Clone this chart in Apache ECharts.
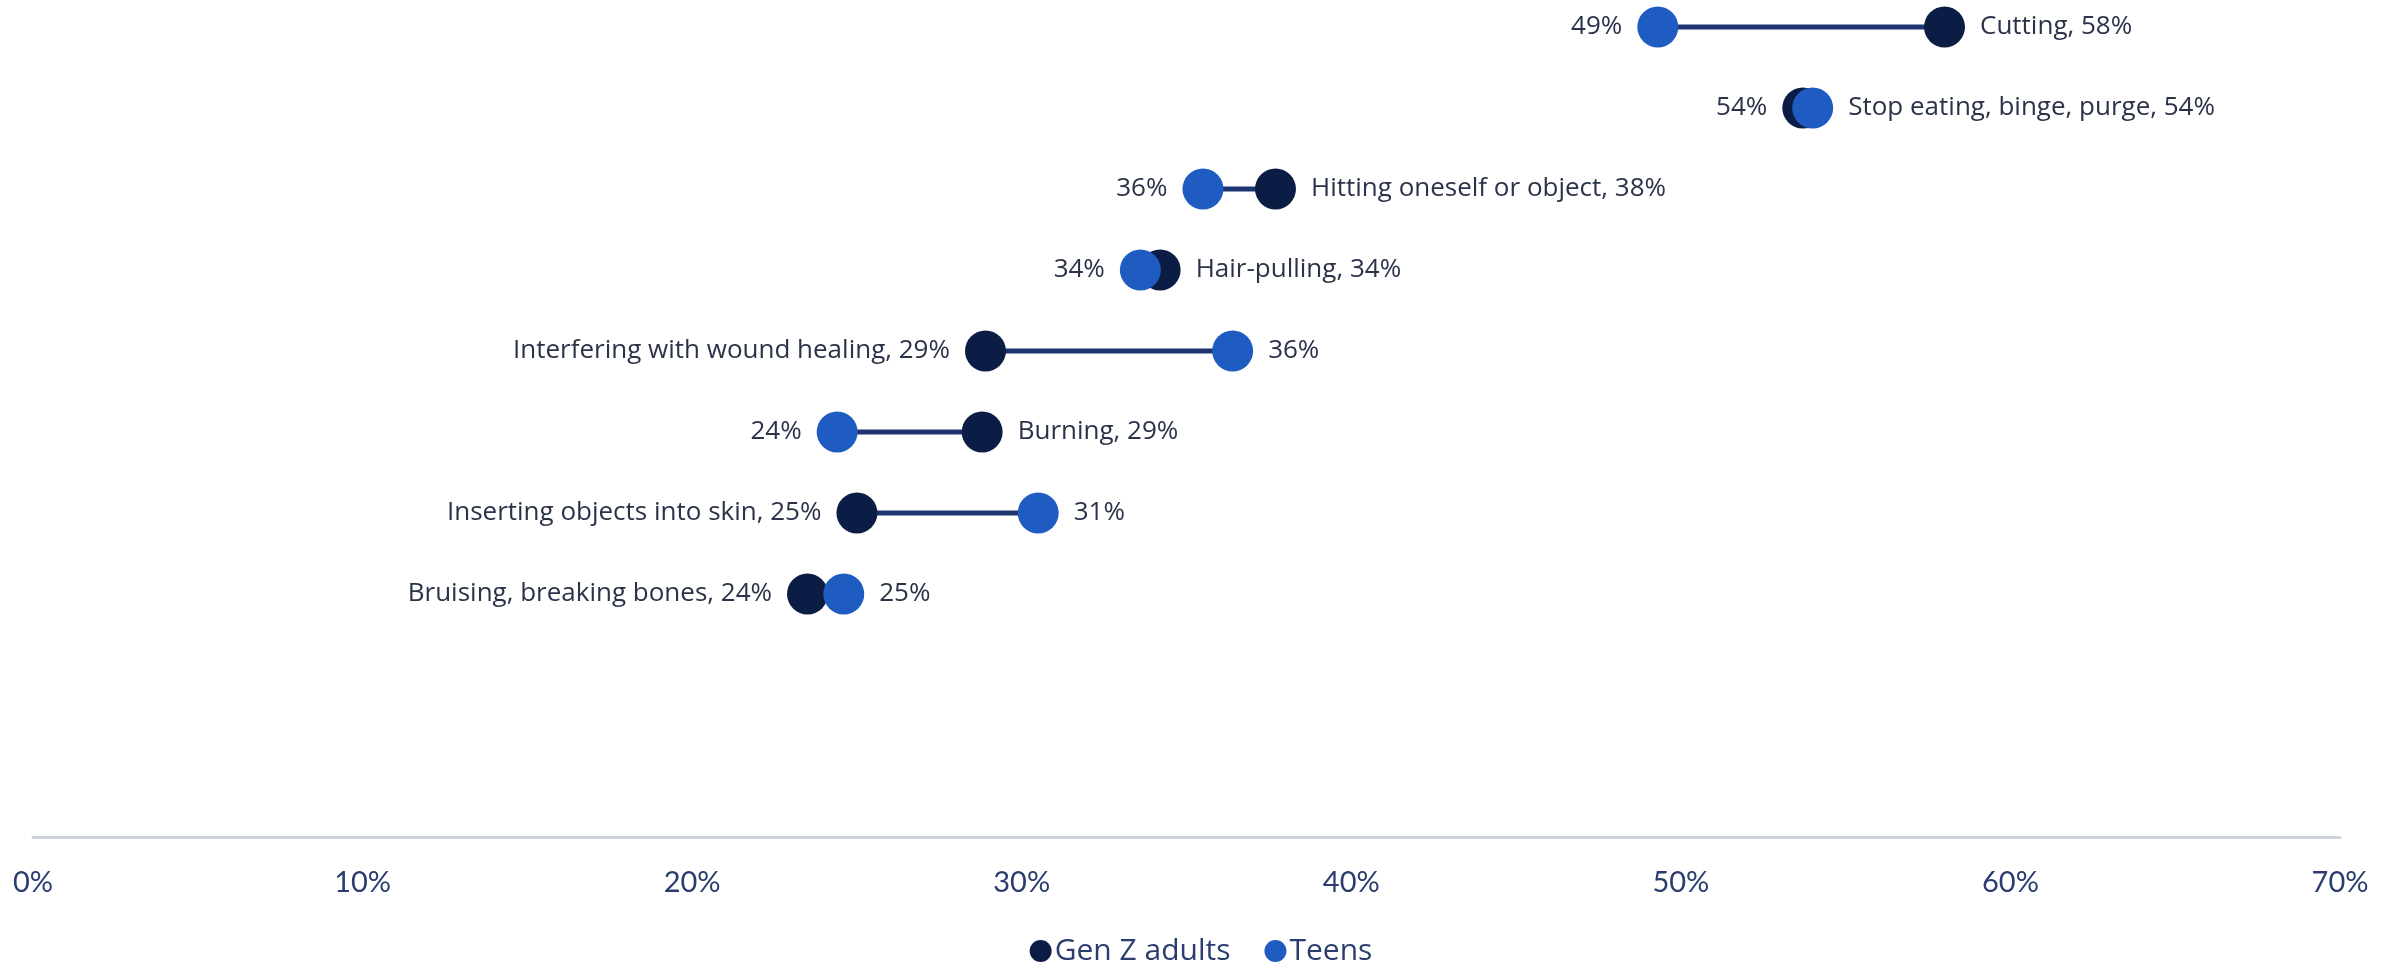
<!DOCTYPE html>
<html>
<head>
<meta charset="utf-8">
<title>Self-harm methods: Gen Z adults vs Teens</title>
<script src="https://cdn.jsdelivr.net/npm/echarts@6/dist/echarts.min.js"></script>
<style>
  html, body { margin: 0; padding: 0; background: #ffffff; }
  #chart { width: 2402px; height: 965px; }
</style>
</head>
<body>
<div id="chart"></div>
<script>
// Methods, top row first
const categories = [
  'Cutting',
  'Stop eating, binge, purge',
  'Hitting oneself or object',
  'Hair-pulling',
  'Interfering with wound healing',
  'Burning',
  'Inserting objects into skin',
  'Bruising, breaking bones'
];
// Share of respondents (%)
const genZAdults = [58.0, 53.7, 37.7, 34.2, 28.9, 28.8, 25.0, 23.5];
const teens      = [49.3, 54.0, 35.5, 33.6, 36.4, 24.4, 30.5, 24.6];
const seriesNames = ['Gen Z adults', 'Teens'];
const xTicks = [0, 10, 20, 30, 40, 50, 60, 70];

const DARK = '#0c1d45';
const BLUE = '#1f5cc2';
const LINK = '#1d3470';
const LABEL = '#2b3349';
const AXIS_TEXT = '#2a3d6e';
const LABEL_FONT = '"Open Sans", "Noto Sans", sans-serif';
const TICK_FONT = 'Lato, "Noto Sans", sans-serif';

const pct = v => Math.round(v) + '%';

// For each row decide which dot carries the method name and on which side labels sit.
function buildPoints(which) {
  return categories.map((name, i) => {
    const g = genZAdults[i], t = teens[i];
    const mine = which === 0 ? g : t;
    const other = which === 0 ? t : g;
    const isRight = mine >= other;
    let named;
    if (Math.round(g) === Math.round(t)) {
      named = isRight;             // tie: the name goes next to the right-hand dot
    } else {
      named = which === 0;         // otherwise the name follows the Gen Z dot
    }
    return {
      value: [mine, i],
      label: {
        show: true,
        position: isRight ? 'right' : 'left',
        distance: 15,
        formatter: named ? name + ', ' + pct(mine) : pct(mine)
      }
    };
  });
}

const linkData = categories.map((c, i) => [genZAdults[i], teens[i], i]);

const chart = echarts.init(document.getElementById('chart'), null, { renderer: 'canvas' });

chart.setOption({
  animation: false,
  backgroundColor: '#ffffff',
  textStyle: { fontFamily: LABEL_FONT },
  grid: { left: 33, right: 62, top: 27, bottom: 128, containLabel: false },
  xAxis: {
    type: 'value',
    min: xTicks[0],
    max: xTicks[xTicks.length - 1],
    interval: 10,
    axisLine: { show: true, onZero: false, lineStyle: { color: '#cdd4dc', width: 3 } },
    axisTick: { show: false },
    splitLine: { show: false },
    axisLabel: {
      formatter: '{value}%',
      fontSize: 29,
      color: AXIS_TEXT,
      margin: 31,
      fontFamily: TICK_FONT
    }
  },
  yAxis: {
    type: 'value',
    inverse: true,
    min: 0,
    max: 10,
    show: false
  },
  legend: {
    data: seriesNames,
    top: 931,
    left: 'center',
    icon: 'circle',
    itemWidth: 22,
    itemHeight: 22,
    itemGap: 34,
    textStyle: { fontSize: 30, color: AXIS_TEXT, fontFamily: LABEL_FONT, padding: [0, 0, 0, -2] }
  },
  series: [
    {
      type: 'custom',
      name: 'link',
      silent: true,
      z: 1,
      encode: { x: [0, 1], y: 2 },
      data: linkData,
      renderItem: function (params, api) {
        const a = api.coord([api.value(0), api.value(2)]);
        const b = api.coord([api.value(1), api.value(2)]);
        return {
          type: 'line',
          shape: { x1: a[0], y1: a[1], x2: b[0], y2: b[1] },
          style: { stroke: LINK, lineWidth: 5 }
        };
      }
    },
    {
      type: 'scatter',
      name: seriesNames[0],
      z: 2,
      clip: false,
      symbol: 'circle',
      symbolSize: 41,
      itemStyle: { color: DARK, opacity: 1 },
      label: { fontSize: 26, color: LABEL, fontFamily: LABEL_FONT },
      data: buildPoints(0)
    },
    {
      type: 'scatter',
      name: seriesNames[1],
      z: 3,
      clip: false,
      symbol: 'circle',
      symbolSize: 41,
      itemStyle: { color: BLUE, opacity: 1 },
      label: { fontSize: 26, color: LABEL, fontFamily: LABEL_FONT },
      data: buildPoints(1)
    }
  ]
});
</script>
</body>
</html>
